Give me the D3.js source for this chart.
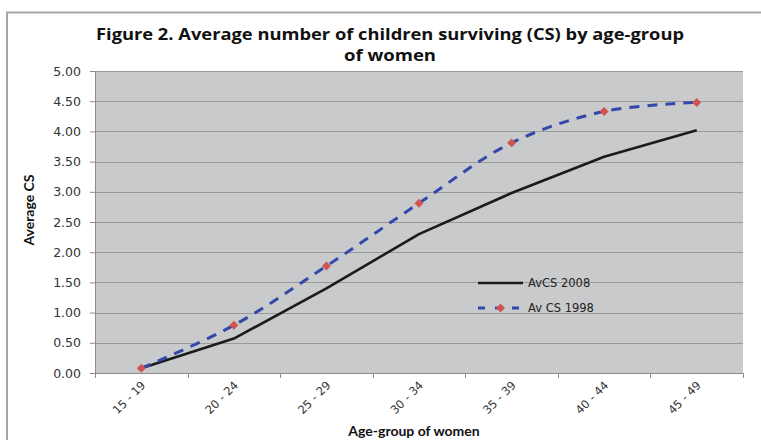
<!DOCTYPE html>
<html>
<head>
<meta charset="utf-8">
<script src="https://cdn.jsdelivr.net/npm/d3@7"></script>
<style>
  html, body { margin: 0; padding: 0; background: #fff; }
  svg { display: block; }
</style>
</head>
<body>
<svg id="chart" width="761" height="440"></svg>
<script>
// Age groups and average children surviving per woman
const ageGroups = ["15 - 19", "20 - 24", "25 - 29", "30 - 34", "35 - 39", "40 - 44", "45 - 49"];
const avCS2008 = [0.08, 0.57, 1.40, 2.30, 2.98, 3.58, 4.02];
const avCS1998 = [0.08, 0.79, 1.77, 2.81, 3.81, 4.33, 4.48];
const yTicks = [0, 0.5, 1, 1.5, 2, 2.5, 3, 3.5, 4, 4.5, 5];
const seriesNames = ["AvCS 2008", "Av CS 1998"];
const titleLines = ["Figure 2. Average number of children surviving (CS) by age-group", "of women"];

const svg = d3.select("#chart");
const plot = { left: 95, right: 743, top: 71, bottom: 373 };

// Outer chart frame
svg.append("rect")
  .attr("x", 7).attr("y", 12.5)
  .attr("width", 790).attr("height", 460)
  .attr("fill", "#fff")
  .attr("stroke", "#a6a6a6").attr("stroke-width", 2);

const x = d3.scaleBand().domain(ageGroups).range([plot.left, plot.right]).padding(0);
const y = d3.scaleLinear().domain([0, 5]).range([plot.bottom, plot.top]);

// Plot area background
svg.append("rect")
  .attr("x", plot.left).attr("y", plot.top)
  .attr("width", plot.right - plot.left).attr("height", plot.bottom - plot.top)
  .attr("fill", "#c9cacc");

// Horizontal gridlines
svg.append("g").selectAll("line")
  .data(yTicks.filter(d => d > 0))
  .join("line")
  .attr("x1", plot.left).attr("x2", plot.right)
  .attr("y1", d => Math.round(y(d)) + 0.5).attr("y2", d => Math.round(y(d)) + 0.5)
  .attr("stroke", "#9a9a9a").attr("stroke-width", 1.2);

// Y axis
const yAxis = svg.append("g")
  .attr("transform", `translate(${plot.left},0)`)
  .call(d3.axisLeft(y).tickValues(yTicks).tickFormat(d3.format(".2f")).tickSize(5).tickPadding(9));
yAxis.select(".domain").attr("stroke", "#8c8c8c");
yAxis.selectAll(".tick line").attr("stroke", "#8c8c8c");
yAxis.selectAll("text")
  .attr("fill", "#333")
  .style("font-family", "'DejaVu Sans', Verdana, sans-serif")
  .style("font-size", "12.5px");

// X axis with ticks at category boundaries
const xAxis = svg.append("g")
  .attr("transform", `translate(0,${plot.bottom})`);
xAxis.append("line")
  .attr("x1", plot.left).attr("x2", plot.right)
  .attr("y1", 0.5).attr("y2", 0.5)
  .attr("stroke", "#8c8c8c");
const boundaries = ageGroups.map(g => x(g)).concat([x(ageGroups[ageGroups.length - 1]) + x.bandwidth()]);
xAxis.selectAll("line.tk")
  .data(boundaries)
  .join("line").attr("class", "tk")
  .attr("x1", d => Math.round(d) + 0.5).attr("x2", d => Math.round(d) + 0.5)
  .attr("y1", 0).attr("y2", 5)
  .attr("stroke", "#8c8c8c");
xAxis.selectAll("text")
  .data(ageGroups)
  .join("text")
  .attr("transform", d => `translate(${x(d) + x.bandwidth() / 2 + 5},${13}) rotate(-45)`)
  .attr("text-anchor", "end")
  .attr("fill", "#333")
  .style("font-family", "'DejaVu Sans', Verdana, sans-serif")
  .style("font-size", "11.5px")
  .text(d => d);

const cx = d => x(d) + x.bandwidth() / 2;

// 2008 series: straight black line
const line2008 = d3.line()
  .x((d, i) => cx(ageGroups[i]))
  .y(d => y(d));
svg.append("path")
  .datum(avCS2008)
  .attr("d", line2008)
  .attr("fill", "none")
  .attr("stroke", "#1b1b1b")
  .attr("stroke-width", 2.6)
  .attr("stroke-linejoin", "round");

// 1998 series: smoothed blue dashed line with red diamond markers
const line1998 = d3.line()
  .x((d, i) => cx(ageGroups[i]))
  .y(d => y(d))
  .curve(d3.curveCatmullRom.alpha(0.5));
svg.append("path")
  .datum(avCS1998)
  .attr("d", line1998)
  .attr("fill", "none")
  .attr("stroke", "#3348a8")
  .attr("stroke-width", 3)
  .attr("stroke-dasharray", "10,8");

// square marker turned 45 degrees
const marker = d3.symbol().type(d3.symbolSquare).size(40);
svg.append("g").selectAll("path")
  .data(avCS1998)
  .join("path")
  .attr("transform", (d, i) => `translate(${cx(ageGroups[i])},${y(d)}) rotate(45)`)
  .attr("d", marker)
  .attr("fill", "#d05350");

// Legend
const legend = svg.append("g").attr("transform", "translate(478,283)");
legend.append("line")
  .attr("x1", 0).attr("x2", 45).attr("y1", 0).attr("y2", 0)
  .attr("stroke", "#1b1b1b").attr("stroke-width", 2.6);
legend.append("line")
  .attr("x1", 0).attr("x2", 45).attr("y1", 25).attr("y2", 25)
  .attr("stroke", "#3348a8").attr("stroke-width", 3)
  .attr("stroke-dasharray", "7,10");
legend.append("path")
  .attr("transform", "translate(22.5,25) rotate(45)")
  .attr("d", marker)
  .attr("fill", "#d05350");
legend.selectAll("text")
  .data(seriesNames)
  .join("text")
  .attr("x", 50)
  .attr("y", (d, i) => i * 25 + 4)
  .attr("fill", "#222")
  .style("font-family", "'DejaVu Sans', Verdana, sans-serif")
  .style("font-size", "11.5px")
  .text(d => d);

// Title, two lines
svg.append("g").selectAll("text")
  .data(titleLines)
  .join("text")
  .attr("x", 390)
  .attr("y", (d, i) => 40 + i * 21)
  .attr("text-anchor", "middle")
  .attr("fill", "#111")
  .style("font-family", "'Open Sans', sans-serif")
  .style("font-weight", "bold")
  .style("font-size", "16px")
  .attr("textLength", (d, i) => i === 0 ? 588 : 92)
  .attr("lengthAdjust", "spacingAndGlyphs")
  .text(d => d);

// Axis titles
svg.append("text")
  .attr("transform", `translate(34,210) rotate(-90)`)
  .attr("text-anchor", "middle")
  .attr("fill", "#111")
  .style("font-family", "Lato, 'Open Sans', sans-serif")
  .style("font-weight", "bold")
  .style("font-size", "14px")
  .text("Average CS");

svg.append("text")
  .attr("x", 414).attr("y", 436)
  .attr("text-anchor", "middle")
  .attr("fill", "#111")
  .style("font-family", "Lato, 'Open Sans', sans-serif")
  .style("font-weight", "bold")
  .style("font-size", "14px")
  .text("Age-group of women");
</script>
</body>
</html>
